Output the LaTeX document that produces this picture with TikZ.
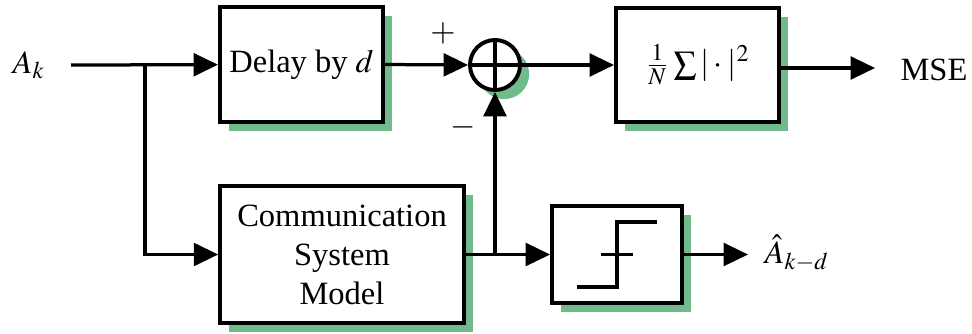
\documentclass[tikz,border=0pt]{standalone}
\usepackage{mathptmx}
\usepackage[no-math]{fontspec}
\setmainfont{Liberation Serif}
\usetikzlibrary{arrows.meta,shadows}
\definecolor{shadegreen}{RGB}{112,186,140}
\tikzset{
  block/.style={draw, line width=1.2pt, fill=white, inner sep=0pt, align=center,
    drop shadow={fill=shadegreen, opacity=1, shadow xshift=2.8pt, shadow yshift=-2.8pt}},
  sumnode/.style={block, circle, minimum size=15.4pt},
  label/.style={inner sep=0pt},
  sig/.style={line width=1pt},
  arr/.style={sig, -{Triangle[length=7.5pt,width=7pt]}}
}
\begin{document}
\begin{tikzpicture}[x=0.3077pt, y=-0.3077pt]
    \useasboundingbox (0,0) rectangle (972,333);

    % blocks
    \node[block, minimum width=50.2pt, minimum height=35.4pt] (delay) at (301.5,64.5) {Delay by $d$};
    \node[sumnode] (sum) at (495,65) {};
    \node[block, minimum width=50.2pt, minimum height=35.1pt] (mse) at (697.5,65) {$\frac{1}{N}\sum|\cdot|^2$};
    \node[block, minimum width=75pt, minimum height=42.2pt] (comm) at (342,254.5) {Communication\\System\\Model};
    \node[block, minimum width=40pt, minimum height=29.8pt] (quant) at (617,254.5) {};

    % labels
    \node[label] (ak) at (29,65) {$A_k$};
    \node[label] (msetext) at (934,70) {MSE};
    \node[label] (ahat) at (797,253) {$\hat{A}_{k-d}$};
    \node[label] (plus) at (443,33) {$+$};
    \node[label] (minus) at (463,127) {$-$};

    \coordinate (in) at (71,65);
    \coordinate (br) at (145,65);
    \coordinate (jn) at (495,254.5);
    \coordinate (msetip) at (875,68);
    \coordinate (qtip) at (748,254.5);

    % summing junction cross
    \draw[sig] (sum.north) -- (sum.south);
    \draw[sig] (sum.west) -- (sum.east);

    % quantizer characteristic
    \draw[sig] (577,287) -- (617,287) -- (617,222) -- (657,222);
    \draw[sig] (601,254.5) -- (633,254.5);

    % signal paths
    \draw[arr] (in) -- (delay);
    \draw[arr] (br) |- (comm.west);
    \draw[arr] (delay.east) -- (sum.west);
    \draw[arr] (sum.east) -- (mse.west);
    \draw[arr] (mse.east |- msetip) -- (msetip);
    \draw[arr] (comm.east) -- (quant.west);
    \draw[arr] (jn) -- (sum.south);
    \draw[arr] (quant.east) -- (qtip);

\end{tikzpicture}
\end{document}
